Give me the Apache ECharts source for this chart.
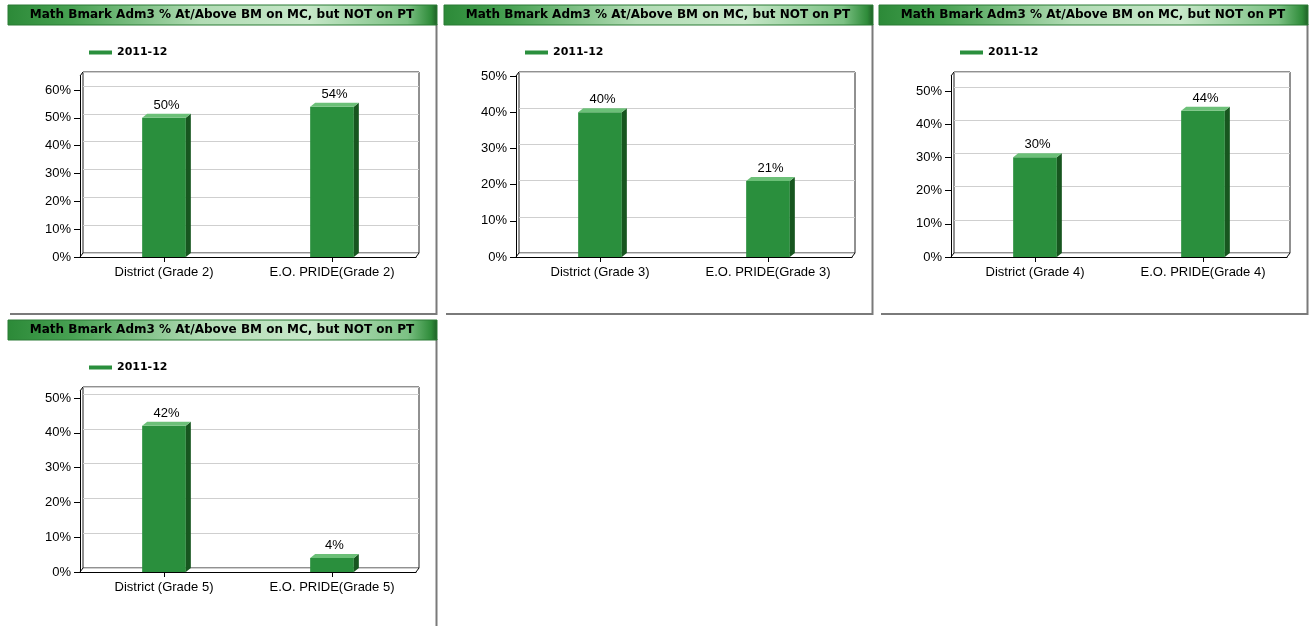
<!DOCTYPE html>
<html>
<head>
<meta charset="utf-8">
<script src="https://cdn.jsdelivr.net/npm/echarts@6/dist/echarts.min.js"></script>
<style>
html,body{margin:0;padding:0;background:#fff;}
#chart{width:1309px;height:626px;}
</style>
</head>
<body>
<div id="chart"></div>
<script>
// ---- data ----
const chartTitle = 'Math Bmark Adm3 % At/Above BM on MC, but NOT on PT';
const seriesName = '2011-12';
const categoriesG2 = ['District (Grade 2)', 'E.O. PRIDE(Grade 2)'];
const categoriesG3 = ['District (Grade 3)', 'E.O. PRIDE(Grade 3)'];
const categoriesG4 = ['District (Grade 4)', 'E.O. PRIDE(Grade 4)'];
const categoriesG5 = ['District (Grade 5)', 'E.O. PRIDE(Grade 5)'];
const valuesG2 = [50, 54];
const valuesG3 = [40, 21];
const valuesG4 = [30, 44];
const valuesG5 = [42, 4];
const ticksG2 = [0, 10, 20, 30, 40, 50, 60];
const ticksG3 = [0, 10, 20, 30, 40, 50];
const ticksG4 = [0, 10, 20, 30, 40, 50];
const ticksG5 = [0, 10, 20, 30, 40, 50];
const axisMaxG2 = 65;
const axisMaxG3 = 50;
const axisMaxG4 = 54.5;
const axisMaxG5 = 52;

// ---- layout / style ----
const panels = [
  {ox: 0,   oy: 0,   cats: categoriesG2, vals: valuesG2, ticks: ticksG2, max: axisMaxG2},
  {ox: 436, oy: 0,   cats: categoriesG3, vals: valuesG3, ticks: ticksG3, max: axisMaxG3},
  {ox: 871, oy: 0,   cats: categoriesG4, vals: valuesG4, ticks: ticksG4, max: axisMaxG4},
  {ox: 0,   oy: 315, cats: categoriesG5, vals: valuesG5, ticks: ticksG5, max: axisMaxG5}
];
const FONT = '"Liberation Sans", Arial, sans-serif';
const TFONT = '"DejaVu Sans", Verdana, sans-serif';
const DX = 3, DY = 4;       // wall depth
const BDX = 5, BDY = 4;     // bar depth
const FRONT = '#2a8f3d', SIDE = '#17561f', TOPC = '#6cc078';

const option = {
  animation: false,
  backgroundColor: '#fff',
  title: [], legend: [], grid: [], xAxis: [], yAxis: [], series: [], graphic: []
};

panels.forEach((p, i) => {
  const ox = p.ox, oy = p.oy;
  // panel frame (right & bottom shadow lines)
  option.graphic.push({type: 'line', z: 1, shape: {x1: ox + 436.5, y1: oy + 24, x2: ox + 436.5, y2: oy + 315},
    style: {stroke: '#7a7a7a', lineWidth: 2}});
  option.graphic.push({type: 'line', z: 1, shape: {x1: ox + 10, y1: oy + 314, x2: ox + 437, y2: oy + 314},
    style: {stroke: '#7a7a7a', lineWidth: 2}});
  // title bar
  option.graphic.push({type: 'rect', z: 2, shape: {x: ox + 8, y: oy + 5, width: 429, height: 20},
    style: {
      fill: {type: 'linear', x: 0, y: 0, x2: 1, y2: 0, colorStops: [
        {offset: 0, color: '#2c8a38'}, {offset: 0.15, color: '#47a152'},
        {offset: 0.45, color: '#b2dcb5'}, {offset: 0.7, color: '#c6e7c8'},
        {offset: 0.93, color: '#7cc184'}, {offset: 0.985, color: '#2f8c3a'}, {offset: 1, color: '#1d5e25'}]},
      stroke: '#2a7a34', lineWidth: 1
    }});
  // 3d connectors
  const fl = ox + 80, fb = oy + 257, fr = ox + 416, ft = oy + 76;
  [[fl, fb], [fr, fb], [fl, ft]].forEach(pt => {
    option.graphic.push({type: 'line', z: 5, shape: {x1: pt[0], y1: pt[1], x2: pt[0] + DX, y2: pt[1] - DY},
      style: {stroke: '#000', lineWidth: 1}});
  });

  option.title.push({
    text: chartTitle, left: ox + 222, top: oy + 9, padding: 0, textAlign: 'center',
    textStyle: {fontFamily: TFONT, fontSize: 12, fontWeight: 'bold', color: '#000'}
  });
  option.legend.push({
    data: [seriesName], left: ox + 89, top: oy + 47, icon: 'rect', itemWidth: 23, itemHeight: 4,
    padding: 0, selectedMode: false,
    textStyle: {fontFamily: TFONT, fontSize: 11, fontWeight: 'bold', color: '#000'}
  });

  // back wall grid
  const gBack = option.grid.length;
  option.grid.push({left: ox + 80 + DX, top: oy + 76 - DY, width: 336, height: 181,
    show: true, borderColor: '#222', borderWidth: 1, backgroundColor: '#fff'});
  option.xAxis.push({gridIndex: gBack, type: 'category', data: p.cats, show: false});
  option.yAxis.push({gridIndex: gBack, type: 'value', min: 0, max: p.max, interval: 10,
    axisLine: {show: false}, axisTick: {show: false}, axisLabel: {show: false},
    splitLine: {show: true, lineStyle: {color: '#cfcfcf', width: 1}}});

  // front grid
  const gFront = option.grid.length;
  option.grid.push({left: ox + 80, top: oy + 76, width: 336, height: 181});
  option.xAxis.push({gridIndex: gFront, type: 'category', data: p.cats, boundaryGap: true,
    axisLine: {show: true, lineStyle: {color: '#000', width: 1}},
    axisTick: {show: true, alignWithLabel: true, length: 5, lineStyle: {color: '#000'}},
    axisLabel: {fontFamily: FONT, fontSize: 13, color: '#000', margin: 9},
    splitLine: {show: false}});
  option.yAxis.push({gridIndex: gFront, type: 'value', min: 0, max: p.max, interval: 10,
    axisLine: {show: true, lineStyle: {color: '#000', width: 1}},
    axisTick: {show: true, length: 6, customValues: p.ticks, lineStyle: {color: '#000'}},
    axisLabel: {fontFamily: FONT, fontSize: 13, color: '#000', margin: 9, customValues: p.ticks,
      formatter: '{value}%'},
    splitLine: {show: false}});

  option.series.push({
    type: 'custom', name: seriesName, xAxisIndex: gFront, yAxisIndex: gFront, z: 10,
    itemStyle: {color: FRONT},
    data: p.vals.map((v, k) => [k, v]),
    encode: {x: 0, y: 1},
    renderItem: function (params, api) {
      const cat = api.value(0), val = api.value(1);
      const top = api.coord([cat, val]);
      const base = api.coord([cat, 0]);
      const bw = api.size([1, 0])[0] * 0.26;
      const x1 = top[0] - bw / 2, x2 = top[0] + bw / 2;
      const t = top[1], b = base[1];
      return {type: 'group', children: [
        {type: 'rect', shape: {x: x1, y: t, width: bw, height: b - t}, style: {fill: FRONT}},
        {type: 'polygon', shape: {points: [[x2, t], [x2 + BDX, t - BDY], [x2 + BDX, b - BDY], [x2, b]]},
          style: {fill: SIDE}},
        {type: 'polygon', shape: {points: [[x1, t], [x1 + BDX, t - BDY], [x2 + BDX, t - BDY], [x2, t]]},
          style: {fill: TOPC}},
        {type: 'text', style: {text: val + '%', x: top[0] + BDX / 2, y: t - BDY - 2,
          align: 'center', verticalAlign: 'bottom', font: '13px ' + FONT, fill: '#000'}}
      ]};
    }
  });
});

const chart = echarts.init(document.getElementById('chart'));
chart.setOption(option);
</script>
</body>
</html>
